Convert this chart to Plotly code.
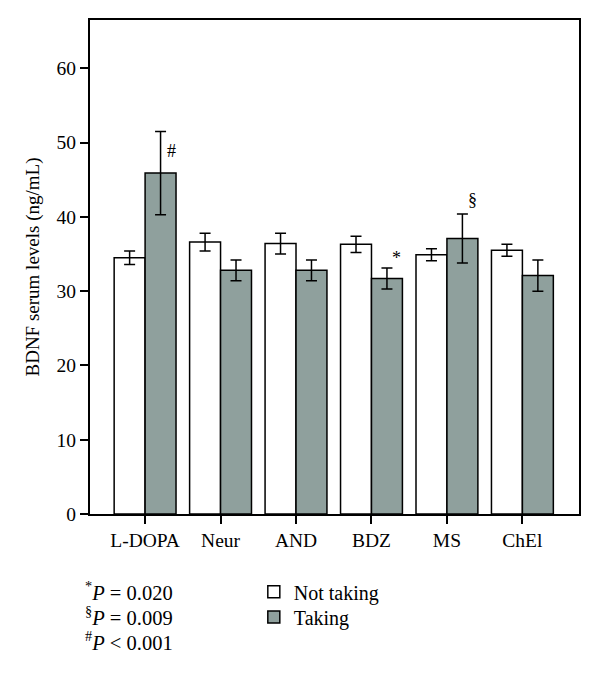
import plotly.graph_objects as go

categories = ["L-DOPA", "Neur", "AND", "BDZ", "MS", "ChEl"]
not_taking = [34.5, 36.6, 36.4, 36.3, 34.9, 35.5]
not_taking_err = [0.9, 1.2, 1.4, 1.1, 0.8, 0.8]
taking = [45.9, 32.8, 32.8, 31.7, 37.1, 32.1]
taking_err = [5.6, 1.4, 1.4, 1.4, 3.3, 2.1]
sig_marks = {"L-DOPA": "#", "BDZ": "*", "MS": "§"}
yticks = [0, 10, 20, 30, 40, 50, 60]
footnotes = ["<sup>*</sup><i>P</i> = 0.020", "<sup>§</sup><i>P</i> = 0.009", "<sup>#</sup><i>P</i> < 0.001"]

FONT = "Liberation Serif"
GREY = "#8fa09d"

fig = go.Figure()
fig.add_trace(go.Bar(
    x=categories, y=not_taking, name="Not taking", legend="legend",
    marker=dict(color="white", line=dict(color="black", width=1.5)),
    error_y=dict(type="data", array=not_taking_err, color="black", thickness=1.5, width=5.5),
))
fig.add_trace(go.Bar(
    x=categories, y=taking, name="Taking", legend="legend2",
    marker=dict(color=GREY, line=dict(color="black", width=1.5)),
    error_y=dict(type="data", array=taking_err, color="black", thickness=1.5, width=5.5),
))

shifts = {"#": (4, -20), "*": (2, 10), "§": (3, 14)}
for i, c in enumerate(categories):
    if c in sig_marks:
        s = sig_marks[c]
        dx, dy = shifts[s]
        fig.add_annotation(x=i + 0.3, y=taking[i] + taking_err[i], xref="x", yref="y",
                           text=s, showarrow=False, xshift=dx, yshift=dy,
                           font=dict(family=FONT, size=18, color="black"))

for k, t in enumerate(footnotes):
    fig.add_annotation(x=-0.015, y=-0.155 - k * 0.051, xref="paper", yref="paper",
                       xanchor="left", yanchor="middle", text=t, showarrow=False,
                       font=dict(family=FONT, size=20.5, color="black"))

leg_common = dict(x=0.335, xanchor="left", yanchor="top",
                  font=dict(family=FONT, size=20, color="black"),
                  bgcolor="rgba(0,0,0,0)", itemwidth=30)

fig.update_layout(
    width=600, height=676,
    margin=dict(l=82, r=29, t=12, b=170, autoexpand=False),
    paper_bgcolor="white", plot_bgcolor="white",
    barmode="group", bargap=0.18, bargroupgap=0,
    font=dict(family=FONT, size=19.5, color="black"),
    showlegend=True,
    legend=dict(y=-0.118, **leg_common),
    legend2=dict(y=-0.169, **leg_common),
)
fig.update_xaxes(range=[-0.73, 5.75], showline=True, linecolor="black", linewidth=2,
                 mirror=True, ticks="outside", ticklen=8, tickwidth=1.5, tickcolor="black",
                 showgrid=False, zeroline=False, tickfont=dict(family=FONT, size=19.5))
fig.update_yaxes(range=[0, 66.5], tickvals=yticks, showline=True, linecolor="black", linewidth=2,
                 mirror=True, ticks="outside", ticklen=8, tickwidth=1.5, tickcolor="black",
                 showgrid=False, zeroline=False, tickfont=dict(family=FONT, size=19.5),
                 title=dict(text="BDNF serum levels (ng/mL)", font=dict(family=FONT, size=19), standoff=12))

fig.write_html("out.html")
